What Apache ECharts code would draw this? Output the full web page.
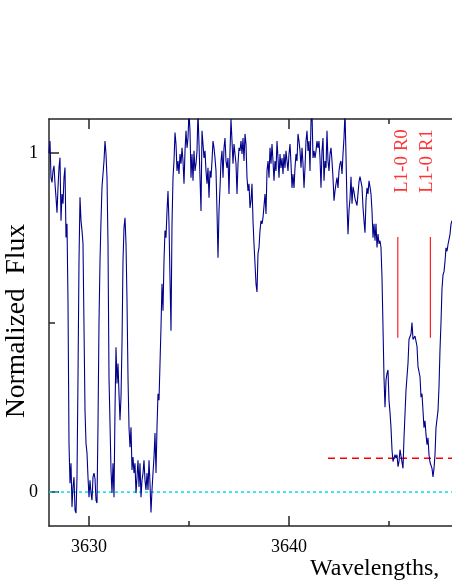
<!DOCTYPE html>
<html>
<head>
<meta charset="utf-8">
<script src="https://cdn.jsdelivr.net/npm/echarts@6.0.0/dist/echarts.min.js"></script>
<style>
  html, body { margin: 0; padding: 0; background: #fff; }
  #chart { width: 452px; height: 585px; }
</style>
</head>
<body>
<div id="chart"></div>
<script>
// spectrum sampled every 0.05 A starting at 3628.00 (one row = 1 A)
const lambdaStart = 3628.0
const lambdaStep = 0.05
const flux = [
  1.00, 1.035, 0.927, 0.913, 0.947, 0.962, 0.909, 0.869, 0.824, 0.898, 0.957, 0.986, 0.80, 0.879, 0.85, 0.927, 0.957, 0.751, 0.791, 0.56,
  0.144, 0.026, 0.085, -0.044, 0.015, 0.044, -0.053, -0.062, 0.044, 0.339, 0.682, 0.869, 0.80, 0.771, 0.732, 0.486, 0.241, 0.144, 0.115, 0.044,
  -0.015, 0.035, -0.003, -0.024, 0.044, 0.056, 0.04, -0.024, -0.032, 0.20, 0.50, 0.68, 0.80, 0.90, 0.938, 0.976, 1.035, 0.997, 0.927, 0.732,
  0.338, 0.203, 0.065, -0.003, 0.085, -0.015, 0.241, 0.427, 0.32, 0.379, 0.29, 0.212, 0.28, 0.438, 0.682, 0.779, 0.809, 0.732, 0.565, 0.338,
  0.191, 0.132, 0.191, 0.065, 0.103, 0.056, 0.085, -0.003, 0.044, 0.094, 0.015, 0.085, -0.015, 0.035, 0.056, 0.094, 0.035, 0.006, 0.056, 0.006,
  0.094, 0.026, -0.06, 0.006, 0.056, 0.103, 0.174, 0.056, 0.191, 0.29, 0.271, 0.379, 0.486, 0.614, 0.535, 0.682, 0.771, 0.75, 0.829, 0.888,
  0.791, 0.632, 0.476, 0.791, 0.927, 0.976, 1.06, 1.026, 0.947, 0.976, 0.938, 0.997, 0.968, 1.015, 0.976, 0.909, 1.006, 1.065, 1.015, 1.044,
  1.12, 1.065, 0.927, 0.997, 0.918, 1.006, 0.947, 0.968, 1.006, 1.12, 1.026, 0.927, 0.829, 1.065, 1.026, 0.985, 1.006, 0.947, 0.909, 0.956,
  0.868, 0.947, 0.927, 0.976, 1.035, 1.015, 0.985, 0.947, 0.829, 0.691, 0.829, 0.897, 0.976, 1.006, 0.927, 1.015, 1.044, 0.976, 0.956, 0.985,
  0.879, 1.006, 1.10, 1.035, 0.968, 1.026, 0.997, 0.968, 0.879, 0.968, 1.015, 1.006, 1.035, 0.997, 1.044, 0.976, 1.056, 1.026, 0.927, 0.888,
  0.909, 0.838, 0.859, 0.909, 0.80, 0.732, 0.673, 0.614, 0.59, 0.703, 0.721, 0.771, 0.80, 0.791, 0.809, 0.809, 0.879, 0.82, 0.947, 0.976,
  0.927, 1.015, 0.968, 1.026, 0.976, 0.918, 0.976, 0.947, 1.035, 0.985, 0.927, 0.997, 0.956, 0.985, 0.938, 0.997, 0.956, 1.006, 0.976, 0.947,
  0.997, 1.026, 0.968, 0.897, 0.938, 0.897, 0.956, 0.997, 0.976, 1.056, 1.035, 1.006, 0.956, 1.015, 0.968, 0.897, 0.956, 1.035, 1.065, 1.006,
  1.035, 0.947, 1.094, 1.12, 0.985, 1.006, 0.985, 1.006, 1.035, 1.015, 1.035, 0.985, 0.897, 1.006, 1.044, 0.918, 0.976, 0.956, 1.065, 0.976,
  0.947, 0.997, 1.015, 0.976, 0.927, 0.859, 0.888, 0.909, 0.927, 0.897, 0.947, 0.968, 0.976, 0.938, 0.997, 1.044, 1.12, 0.99, 0.85, 0.76,
  0.83, 0.865, 0.93, 0.85, 0.90, 0.885, 0.865, 0.87, 0.845, 0.88, 0.915, 0.93, 0.93, 0.90, 0.84, 0.80, 0.765, 0.86, 0.897, 0.879,
  0.918, 0.90, 0.879, 0.829, 0.75, 0.791, 0.741, 0.791, 0.721, 0.761, 0.732, 0.741, 0.721, 0.632, 0.486, 0.338, 0.25, 0.33, 0.35, 0.36,
  0.27, 0.235, 0.19, 0.125, 0.09, 0.10, 0.11, 0.10, 0.11, 0.075, 0.09, 0.125, 0.12, 0.12, 0.07, 0.16, 0.23, 0.30, 0.34, 0.38,
  0.45, 0.45, 0.466, 0.50, 0.45, 0.45, 0.46, 0.465, 0.43, 0.37, 0.37, 0.34, 0.28, 0.29, 0.24, 0.19, 0.21, 0.17, 0.14, 0.16,
  0.11, 0.088, 0.09, 0.07, 0.045, 0.07, 0.11, 0.19, 0.19, 0.24, 0.31, 0.42, 0.50, 0.60, 0.64, 0.65, 0.68, 0.72, 0.71, 0.73,
  0.735, 0.76, 0.79, 0.80
]

// axes
const xMin = 3628
const xMax = 3648.15
const yMin = -0.1
const yMax = 1.1
const xMajorTicks = [3630, 3640]
const xMinorTicks = [3635, 3645]
const xLabels = [3630, 3640]
const yMajorTicks = [0, 1]
const yMinorTicks = [0.5]
const yLabels = [0, 1]

// line identifications (red)
const lineNames = ['L1-0 R0', 'L1-0 R1']
const lineWavelengths = [3645.44, 3647.07]
const lineFluxRange = [0.455, 0.752]
const lineLabelFlux = 0.976
const continuumLevel = 0.1
const continuumStart = 3641.95
const zeroLevel = 0

const serif = 'Liberation Serif'
const axisColor = '#262626'

const spectrum = flux.map((f, i) => [+(lambdaStart + i * lambdaStep).toFixed(2), f])

function axis(pos, ticks, len, showLine, labels) {
  const horizontal = pos === 'bottom' || pos === 'top'
  return {
    type: 'value',
    position: pos,
    min: horizontal ? xMin : yMin,
    max: horizontal ? xMax : yMax,
    offset: 0,
    axisLine: { show: showLine, onZero: false, lineStyle: { color: axisColor, width: 1.5 } },
    axisTick: { show: true, inside: true, length: len, customValues: ticks, lineStyle: { color: axisColor, width: 1.5 } },
    axisLabel: labels ? {
      show: true,
      customValues: labels,
      color: '#000',
      fontFamily: serif,
      fontSize: 18,
      margin: horizontal ? 12 : 11,
      formatter: v => String(v)
    } : { show: false },
    splitLine: { show: false }
  }
}

const chart = echarts.init(document.getElementById('chart'))

chart.setOption({
  animation: false,
  backgroundColor: '#fff',
  grid: { left: 49, top: 119, right: 0, bottom: 59, containLabel: false },
  xAxis: [
    axis('bottom', xMajorTicks, 10, true, xLabels),
    axis('bottom', xMinorTicks, 5, false, null),
    axis('top', xMajorTicks, 10, true, null),
    axis('top', xMinorTicks, 5, false, null)
  ],
  yAxis: [
    axis('left', yMajorTicks, 10, true, yLabels),
    axis('left', yMinorTicks, 6, false, null)
  ],
  graphic: [
    {
      type: 'text',
      x: 17, y: 321,
      rotation: Math.PI / 2,
      style: { text: 'Normalized  Flux', font: '27.5px ' + serif, fill: '#000', align: 'center', verticalAlign: 'middle' }
    },
    {
      type: 'text',
      x: 310, y: 569,
      style: { text: 'Wavelengths,', font: '24px ' + serif, fill: '#000', align: 'left', verticalAlign: 'middle' }
    }
  ],
  series: [
    {
      type: 'line',
      symbol: 'none',
      silent: true,
      data: [[xMin, zeroLevel], [xMax, zeroLevel]],
      lineStyle: { color: '#00e0f0', width: 1.5, type: [3, 3] }
    },
    {
      type: 'line',
      symbol: 'none',
      silent: true,
      data: [[continuumStart, continuumLevel], [xMax, continuumLevel]],
      lineStyle: { color: '#ff0000', width: 1.5, type: [7, 5] }
    },
    ...lineWavelengths.map(w => ({
      type: 'line',
      symbol: 'none',
      silent: true,
      data: [[w, lineFluxRange[0]], [w, lineFluxRange[1]]],
      lineStyle: { color: '#ff2020', width: 1.2 }
    })),
    {
      type: 'line',
      symbol: 'none',
      silent: true,
      z: 5,
      data: spectrum,
      lineStyle: { color: '#00008b', width: 1.1 }
    },
    {
      type: 'scatter',
      symbolSize: 0,
      silent: true,
      data: lineWavelengths.map((w, i) => ({
        value: [w, lineLabelFlux],
        label: {
          show: true,
          position: 'inside',
          rotate: 90,
          offset: i === 0 ? [0, 4] : [0, -3],
          formatter: lineNames[i],
          color: '#ff0000',
          fontFamily: serif,
          fontSize: 19
        }
      }))
    }
  ]
})
</script>
</body>
</html>
